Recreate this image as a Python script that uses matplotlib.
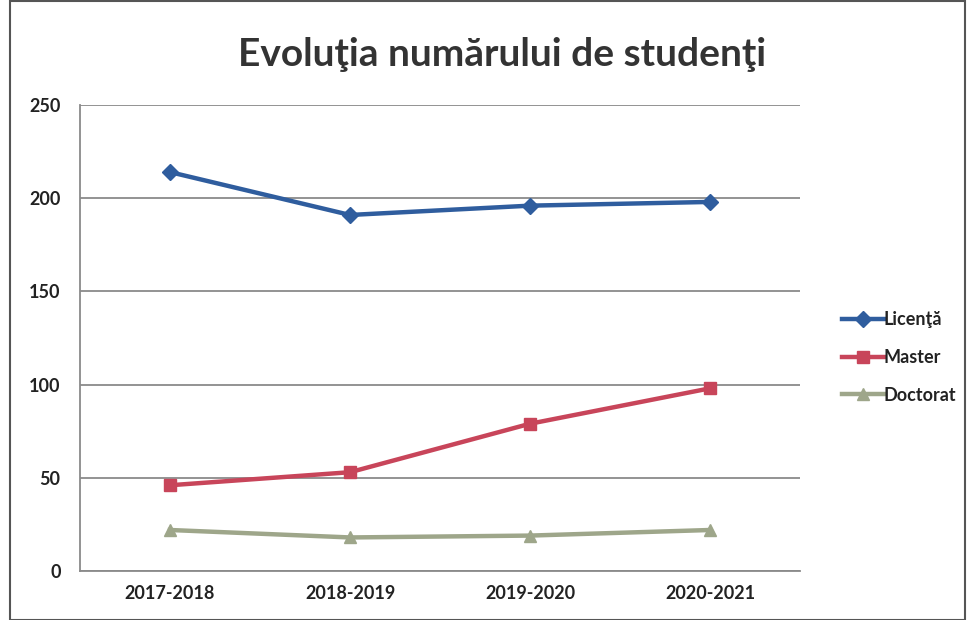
import matplotlib
matplotlib.use("Agg")
import matplotlib.pyplot as plt
from matplotlib.patches import Rectangle

categories = ["2017-2018", "2018-2019", "2019-2020", "2020-2021"]
licenta = [214, 191, 196, 198]
master = [46, 53, 79, 98]
doctorat = [22, 18, 19, 22]
series_names = ["Licenţă", "Master", "Doctorat"]
yticks = [0, 50, 100, 150, 200, 250]

plt.rcParams['font.family'] = ['Lato', 'DejaVu Sans']

fig = plt.figure(figsize=(9.74, 6.2), dpi=100)
ax = fig.add_axes([80/974, 1-571/620, 720/974, 466/620])

x = list(range(len(categories)))
ax.plot(x, licenta, color="#2F5D9E", lw=3.2, marker="D", ms=8, label=series_names[0])
ax.plot(x, master, color="#C8455A", lw=3.2, marker="s", ms=9, label=series_names[1])
ax.plot(x, doctorat, color="#9EA68A", lw=3.2, marker="^", ms=9, label=series_names[2])

ax.set_xlim(-0.5, 3.5)
ax.set_ylim(0, 250)
ax.set_yticks(yticks)
ax.set_xticks(x)
ax.set_xticklabels(categories, fontsize=13, fontweight="bold", color="#222222")
ax.tick_params(axis='y', labelsize=13, colors="#222222", length=0, pad=14)
ax.tick_params(axis='x', length=0, pad=10)
for lbl in ax.get_yticklabels():
    lbl.set_fontweight("bold")
ax.grid(axis='y', color="#8a8a8a", lw=1.3)
ax.set_axisbelow(True)
for s in ["top", "right"]:
    ax.spines[s].set_visible(False)
for s in ["left", "bottom"]:
    ax.spines[s].set_color("#8a8a8a")
    ax.spines[s].set_linewidth(1.3)

fig.text(502/974, 1-55/620, "Evoluţia numărului de studenţi", ha="center", va="center",
         fontsize=28, fontweight="bold", color="#333333")

leg = fig.legend(loc="upper left", bbox_to_anchor=(826/974, 1-295/620), frameon=False,
                 fontsize=13, handlelength=2.3, handletextpad=0.0, labelspacing=1.15)
for t in leg.get_texts():
    t.set_fontweight("bold")
    t.set_color("#222222")

fig.patches.append(Rectangle((10/974, 0), 955/974, 0.998, transform=fig.transFigure,
                             fill=False, edgecolor="#555555", lw=1.5))

fig.savefig("out.png", dpi=100)
